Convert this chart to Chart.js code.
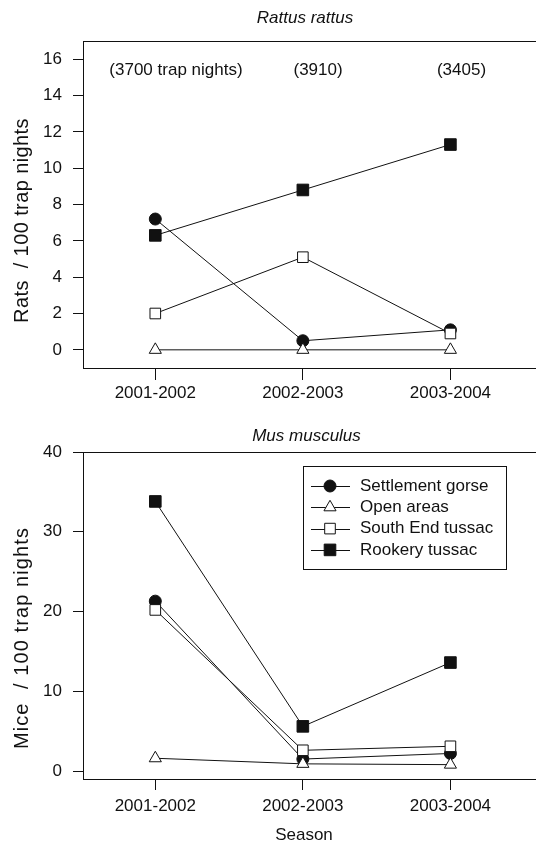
<!DOCTYPE html>
<html><head><meta charset="utf-8">
<script src="https://cdn.jsdelivr.net/npm/chart.js@4.4.1/dist/chart.umd.min.js"></script>
<style>
html,body{margin:0;padding:0;background:#fff;overflow:hidden;width:536px;height:843px}
canvas{position:absolute;left:0}
#c1{top:0}
#c2{top:420px}
</style></head><body>
<canvas id="c1" width="536" height="420"></canvas>
<canvas id="c2" width="536" height="423"></canvas>
<script>
// ---- data ----
const seasons = ["2001-2002", "2002-2003", "2003-2004"];
const seriesNames = ["Settlement gorse", "Open areas", "South End tussac", "Rookery tussac"];
const ratsGorse   = [7.2, 0.5, 1.1];
const ratsOpen    = [0, 0, 0];
const ratsSouth   = [2.0, 5.1, 0.9];
const ratsRookery = [6.3, 8.8, 11.3];
const miceGorse   = [21.3, 1.5, 2.2];
const miceOpen    = [1.6, 0.9, 0.8];
const miceSouth   = [20.2, 2.6, 3.1];
const miceRookery = [33.8, 5.6, 13.6];
const ratTicks  = [0, 2, 4, 6, 8, 10, 12, 14, 16];
const miceTicks = [0, 10, 20, 30, 40];
const trapNights = ["(3700 trap nights)", "(3910)", "(3405)"];

// ---- styles ----
const FONT = "'Liberation Sans', Arial, Helvetica, sans-serif";
const INK = '#111';
const markerStyles = [
  {pointStyle: 'circle',   radius: 6,   fill: INK},
  {pointStyle: 'triangle', radius: 7,   fill: '#fff'},
  {pointStyle: 'rect',     radius: 7.5, fill: '#fff'},
  {pointStyle: 'rect',     radius: 8.2, fill: INK}
];

function makeDataset(i, vals) {
  const st = markerStyles[i];
  return {
    label: seriesNames[i],
    data: vals.map((v, k) => ({x: k, y: v})),
    borderColor: INK, borderWidth: 1, tension: 0, fill: false, clip: false,
    backgroundColor: st.fill,
    pointStyle: st.pointStyle, pointRadius: st.radius, pointHoverRadius: st.radius,
    pointBackgroundColor: st.fill, pointBorderColor: INK, pointBorderWidth: 1,
    order: 4 - i
  };
}

const decor = {
  id: 'decor',
  afterDraw(chart, args, o) {
    const ctx = chart.ctx, a = chart.chartArea, xs = chart.scales.x, ys = chart.scales.y;
    ctx.save();
    ctx.strokeStyle = INK; ctx.lineWidth = 1;
    ctx.beginPath(); ctx.moveTo(a.left, Math.round(a.top) + 0.5); ctx.lineTo(chart.width, Math.round(a.top) + 0.5); ctx.stroke();
    ctx.fillStyle = INK;
    ctx.textAlign = 'center'; ctx.textBaseline = 'middle';
    ctx.font = `italic 17px ${FONT}`;
    ctx.fillText(o.title, o.titleX, o.titleY);
    ctx.font = `${o.yTitleSize}px ${FONT}`;
    ctx.save(); ctx.translate(o.yTitleX, o.yTitleY); ctx.rotate(-Math.PI / 2);
    if ('letterSpacing' in ctx) ctx.letterSpacing = o.yTitleSpacing + 'px';
    ctx.fillText(o.yTitle, 0, 0); ctx.restore();
    ctx.font = `17px ${FONT}`;
    if (o.xTitle) ctx.fillText(o.xTitle, o.xTitleX, o.xTitleY);
    if (o.notes) o.notes.forEach((t, i) => ctx.fillText(t, xs.getPixelForValue(o.noteX[i]), ys.getPixelForValue(o.noteY)));
    if (o.legend) {
      const L = o.legend;
      ctx.strokeRect(L.x + 0.5, L.y + 0.5, L.w, L.h);
      ctx.textAlign = 'left';
      seriesNames.forEach((name, i) => {
        const st = markerStyles[i];
        const y = L.y + L.first + i * L.step;
        ctx.strokeStyle = INK; ctx.lineWidth = 1;
        ctx.beginPath(); ctx.moveTo(L.x1, Math.round(y) + 0.5); ctx.lineTo(L.x2, Math.round(y) + 0.5); ctx.stroke();
        ctx.fillStyle = st.fill;
        Chart.helpers.drawPoint(ctx, {pointStyle: st.pointStyle, radius: st.radius, borderWidth: 1, rotation: 0}, L.mx, y);
        ctx.fillStyle = INK;
        ctx.fillText(name, L.tx, y);
      });
    }
    ctx.restore();
  }
};

function makeOptions(cfg) {
  return {
    responsive: false, animation: false, events: [],
    layout: {autoPadding: false, padding: {left: 0, right: 0, top: cfg.padTop, bottom: cfg.padBottom}},
    plugins: {legend: {display: false}, tooltip: {enabled: false}, title: {display: false}, decor: cfg.decor},
    scales: {
      x: {
        type: 'linear', min: -0.49, max: 2.58,
        afterBuildTicks: s => { s.ticks = seasons.map((_, i) => ({value: i})); },
        afterFit: s => { s.height = cfg.xHeight; s.paddingLeft = 0; s.paddingRight = 0; },
        ticks: {callback: v => seasons[v] ?? '', font: {family: FONT, size: 17}, color: INK,
                padding: cfg.xPad, maxRotation: 0, autoSkip: false},
        grid: {drawOnChartArea: false, drawTicks: true, tickLength: cfg.xTick, tickColor: INK, tickWidth: 1},
        border: {display: true, color: INK, width: 1}
      },
      y: {
        type: 'linear', min: cfg.yMin, max: cfg.yMax,
        afterBuildTicks: s => { s.ticks = cfg.yTicks.map(v => ({value: v})); },
        afterFit: s => { s.width = 83; },
        ticks: {font: {family: FONT, size: 17}, color: INK, padding: 11, autoSkip: false},
        grid: {drawOnChartArea: false, drawTicks: true, tickLength: 10, tickColor: INK, tickWidth: 1},
        border: {display: true, color: INK, width: 1}
      }
    }
  };
}

new Chart(document.getElementById('c1'), {
  type: 'line',
  data: {datasets: [ratsGorse, ratsOpen, ratsSouth, ratsRookery].map((v, i) => makeDataset(i, v))},
  options: makeOptions({
    padTop: 41, padBottom: 2, xHeight: 50, xPad: 3, xTick: 12,
    yMin: -1, yMax: 17, yTicks: ratTicks,
    decor: {
      title: 'Rattus rattus', titleX: 305, titleY: 18.5,
      yTitle: 'Rats  / 100 trap nights', yTitleSize: 20, yTitleSpacing: 0.4, yTitleX: 22, yTitleY: 220.5,
      notes: trapNights, noteX: [0.14, 1.103, 2.075], noteY: 15.4
    }
  }),
  plugins: [decor]
});

new Chart(document.getElementById('c2'), {
  type: 'line',
  data: {datasets: [miceGorse, miceOpen, miceSouth, miceRookery].map((v, i) => makeDataset(i, v))},
  options: makeOptions({
    padTop: 32, padBottom: 14, xHeight: 50, xPad: 6, xTick: 11,
    yMin: -1, yMax: 40, yTicks: miceTicks,
    decor: {
      title: 'Mus musculus', titleX: 306.5, titleY: 16,
      yTitle: 'Mice  / 100 trap nights', yTitleSize: 20, yTitleSpacing: 1.1, yTitleX: 22, yTitleY: 218,
      xTitle: 'Season', xTitleX: 304, xTitleY: 415,
      legend: {x: 303, y: 46, w: 203, h: 103, first: 20, step: 21.3, x1: 311, x2: 350, mx: 330, tx: 360}
    }
  }),
  plugins: [decor]
});
</script>
</body></html>
